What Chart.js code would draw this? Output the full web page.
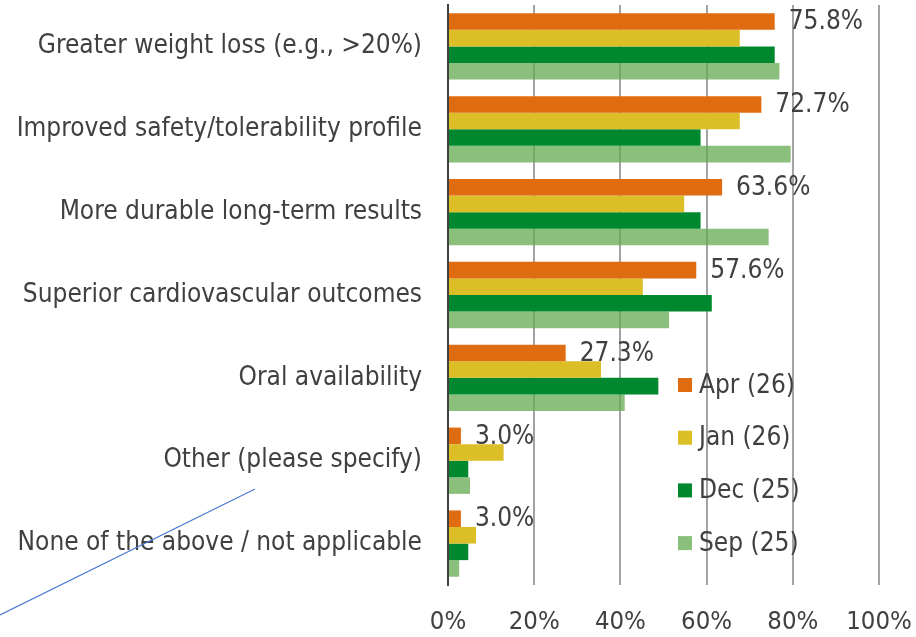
<!DOCTYPE html>
<html>
<head>
<meta charset="utf-8">
<script src="https://cdn.jsdelivr.net/npm/chart.js@4.4.1/dist/chart.umd.min.js"></script>
<style>
  html, body { margin: 0; padding: 0; background: #ffffff; }
  #wrap { width: 916px; height: 637px; }
</style>
</head>
<body>
<div id="wrap"><canvas id="c" width="916" height="637"></canvas></div>
<script>
const categories = [
  "Greater weight loss (e.g., >20%)",
  "Improved safety/tolerability profile",
  "More durable long-term results",
  "Superior cardiovascular outcomes",
  "Oral availability",
  "Other (please specify)",
  "None of the above / not applicable"
];
const seriesNames = ["Apr (26)", "Jan (26)", "Dec (25)", "Sep (25)"];
const apr26 = [75.8, 72.7, 63.6, 57.6, 27.3, 3.0, 3.0];
const jan26 = [67.7, 67.7, 54.8, 45.2, 35.5, 12.9, 6.5];
const dec25 = [75.8, 58.6, 58.6, 61.2, 48.8, 4.7, 4.7];
const sep25 = [76.9, 79.5, 74.4, 51.3, 41.0, 5.1, 2.6];
const xTicks = [0, 20, 40, 60, 80, 100];

const colors = ["#E06C12", "#DCBE26", "#00882E", "rgba(100,170,80,0.75)"];
const FONT = "'DejaVu Sans Condensed', 'DejaVu Sans', sans-serif";
const TEXT = "#404040";

const labelPlugin = {
  id: "aprLabels",
  afterDatasetsDraw(chart) {
    const ctx = chart.ctx;
    const meta = chart.getDatasetMeta(0);
    ctx.save();
    ctx.font = "26px " + FONT;
    ctx.fillStyle = TEXT;
    ctx.textAlign = "left";
    ctx.textBaseline = "middle";
    meta.data.forEach((bar, i) => {
      ctx.fillText(apr26[i].toFixed(1) + "%", bar.x + 14, bar.y + 1);
    });
    ctx.restore();
  }
};

const legendPlugin = {
  id: "insideLegend",
  afterDraw(chart) {
    const ctx = chart.ctx;
    ctx.save();
    ctx.font = "26px " + FONT;
    ctx.textAlign = "left";
    ctx.textBaseline = "middle";
    chart.data.datasets.forEach((ds, i) => {
      const cy = 385 + i * 52.7;
      ctx.fillStyle = ds.backgroundColor;
      ctx.fillRect(678, cy - 7, 14, 14);
      ctx.fillStyle = TEXT;
      ctx.fillText(ds.label, 699, cy + 1);
    });
    ctx.restore();
  }
};

const strayLinePlugin = {
  id: "strayLine",
  afterDraw(chart) {
    const ctx = chart.ctx;
    ctx.save();
    ctx.strokeStyle = "#4A7BD0";
    ctx.lineWidth = 1.2;
    ctx.beginPath();
    ctx.moveTo(0, 615);
    ctx.lineTo(255, 489);
    ctx.stroke();
    ctx.restore();
  }
};

new Chart(document.getElementById("c"), {
  type: "bar",
  data: {
    labels: categories,
    datasets: [
      { label: seriesNames[0], data: apr26, backgroundColor: colors[0] },
      { label: seriesNames[1], data: jan26, backgroundColor: colors[1] },
      { label: seriesNames[2], data: dec25, backgroundColor: colors[2] },
      { label: seriesNames[3], data: sep25, backgroundColor: colors[3] }
    ]
  },
  options: {
    indexAxis: "y",
    responsive: false,
    animation: false,
    devicePixelRatio: 1,
    layout: { padding: { top: 5, right: 37, left: 0, bottom: 0 } },
    datasets: { bar: { categoryPercentage: 0.8, barPercentage: 1.0, borderWidth: 0 } },
    plugins: {
      legend: { display: false },
      tooltip: { enabled: false }
    },
    scales: {
      x: {
        min: 0, max: 100,
        afterBuildTicks(scale) { scale.ticks = xTicks.map(v => ({ value: v })); },
        afterFit(scale) {
          scale.height = 52;
          scale.paddingLeft = 0; scale.paddingRight = 0;
        },
        grid: { color: "#A3A3A3", lineWidth: 2, drawTicks: false },
        border: { display: false },
        ticks: {
          padding: 22,
          color: TEXT,
          font: { family: FONT, size: 25.5 },
          callback: v => v + "%"
        }
      },
      y: {
        afterFit(scale) {
          scale.width = 448;
          scale.paddingTop = 0; scale.paddingBottom = 0;
        },
        grid: { display: false, drawTicks: false },
        border: { display: true, color: "#404040", width: 2 },
        ticks: {
          padding: 26,
          color: TEXT,
          font: { family: FONT, size: 26 },
          autoSkip: false
        }
      }
    }
  },
  plugins: [labelPlugin, legendPlugin, strayLinePlugin]
});
</script>
</body>
</html>
